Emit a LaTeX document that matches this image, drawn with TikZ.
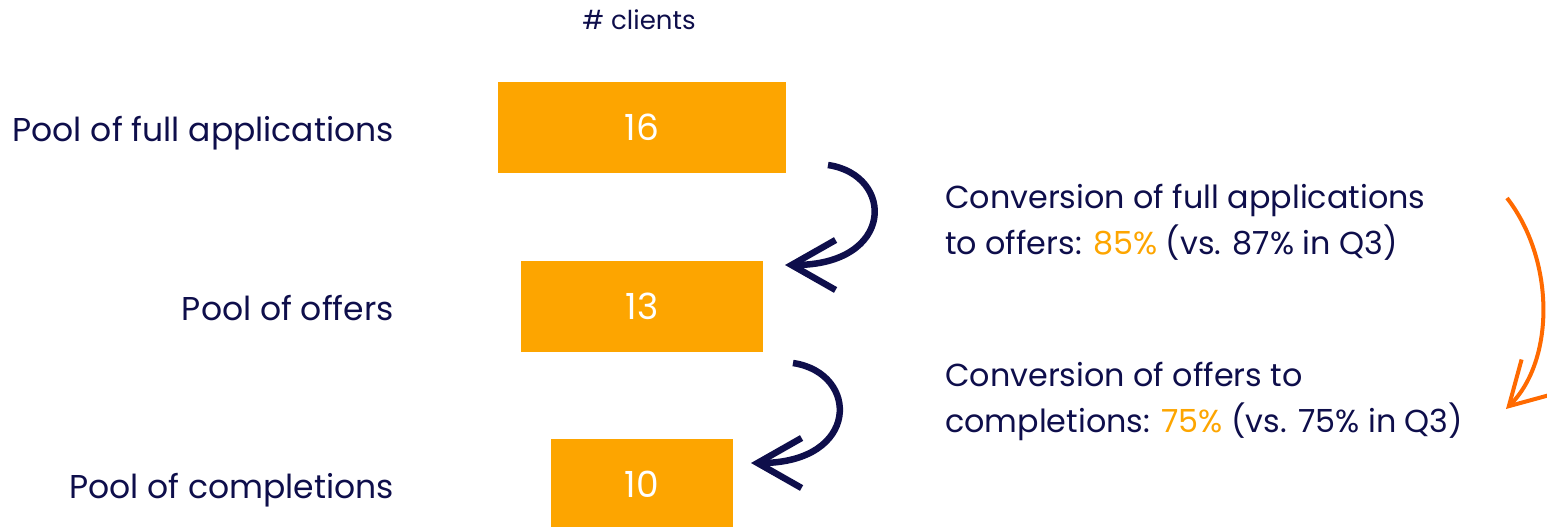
\documentclass[tikz,border=0pt]{standalone}
\usepackage{fontspec}
\setmainfont{Poppins}
\usetikzlibrary{arrows.meta}
\definecolor{navy}{HTML}{0E0E4B}
\definecolor{barorange}{HTML}{FDA500}
\definecolor{deeporange}{HTML}{FF6A00}

\begin{document}
\begin{tikzpicture}[x=1pt,y=-1pt]
\tikzstyle{bar}=[fill=barorange, text=white, minimum height=91pt, inner sep=0pt, font=\fontsize{36}{40}\selectfont]
\tikzstyle{pool}=[anchor=base east, text=navy, inner sep=0pt, font=\fontsize{33}{40}\selectfont]
\tikzstyle{conv}=[anchor=base west, align=left, text=navy, inner sep=0pt, font=\fontsize{31.8}{46}\selectfont]
\tikzstyle{flow}=[navy, line width=6.5pt, -{Straight Barb[length=44pt,width=50pt]}]
\tikzstyle{trend}=[deeporange, line width=4pt, -{Straight Barb[length=42pt,width=48pt]}]
\useasboundingbox (0,0) rectangle (1547,527);

\node[text=navy, font=\fontsize{26}{30}\selectfont] (clients) at (639,20) {\# clients};

\node[bar, minimum width=288pt] (full) at (642,127.5) {16};
\node[bar, minimum width=242pt] (offers) at (642,306.5) {13};
\node[bar, minimum width=182pt] (compl) at (642,484.5) {10};

\node[pool] (lfull) at (394,141.7) {Pool of full applications};
\node[pool] (loffers) at (394,320.7) {Pool of offers};
\node[pool] (lcompl) at (394,498.7) {Pool of completions};

\node[conv] (cfull) at (945,254) {Conversion of full applications\\to offers: {\color{barorange}85\%} (vs. 87\% in Q3)};
\node[conv] (coffers) at (945,432) {Conversion of offers to\\completions: {\color{barorange}75\%} (vs. 75\% in Q3)};

\coordinate (s1) at (828,165);
\coordinate (e1) at (785,265);
\coordinate (s2) at (793,363);
\coordinate (e2) at (751,463);
\coordinate (s3) at (1507,198);
\coordinate (e3) at (1506,409);

\draw[flow] (s1) .. controls (895,175) and (895,265) .. (e1);
\draw[flow] (s2) .. controls (860,373) and (860,463) .. (e2);
\draw[trend] (s3) .. controls (1555,260) and (1555,360) .. (e3);
\end{tikzpicture}
\end{document}
